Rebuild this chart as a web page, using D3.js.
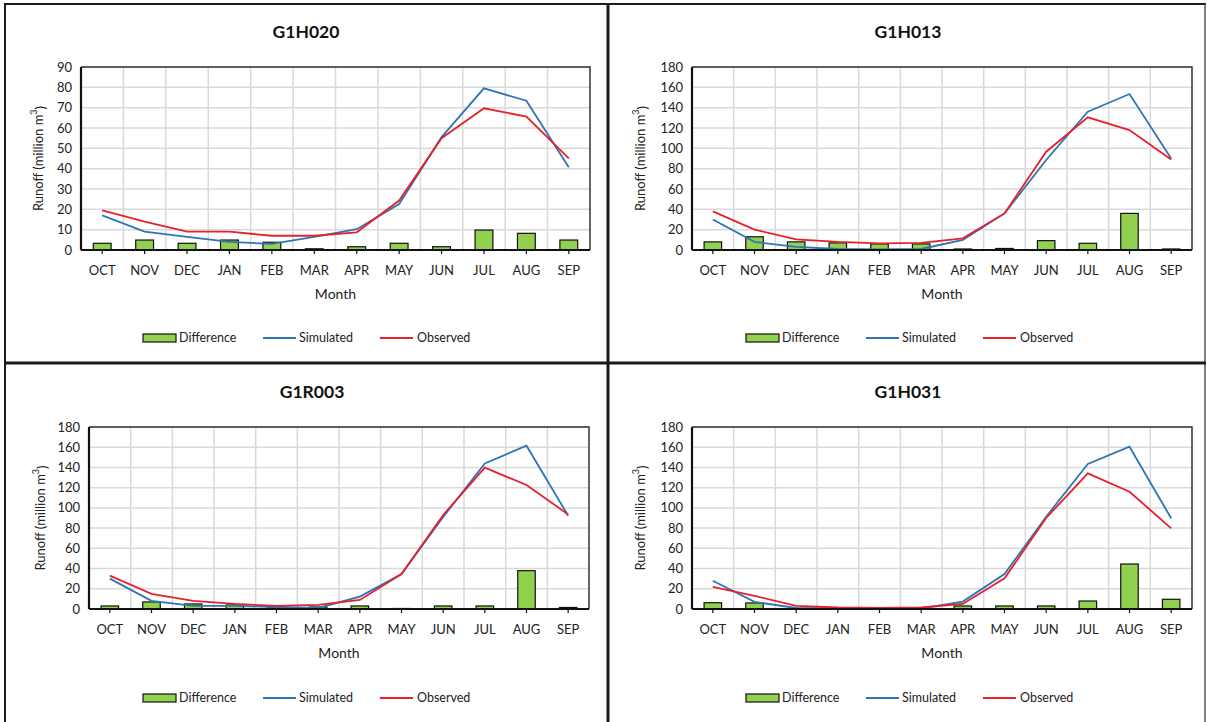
<!DOCTYPE html>
<html><head><meta charset="utf-8">
<script src="https://cdn.jsdelivr.net/npm/d3@7"></script>
<style>body{margin:0;background:#fff}svg{display:block}text{font-family:Lato,"Open Sans",sans-serif}</style>
</head><body><svg id="c" width="1208" height="722"></svg>
<script>
const months = ["OCT","NOV","DEC","JAN","FEB","MAR","APR","MAY","JUN","JUL","AUG","SEP"];
const titles = ["G1H020","G1H013","G1R003","G1H031"];
const yMax = [90,180,180,180];
const yStep = [10,20,20,20];
const simulated_G1H020 = [17,9,6.5,4,3,6.5,10.2,22.6,55.5,79.5,73.4,40.7];
const observed_G1H020  = [19.5,14,9,9,7,7,8.7,24.3,55,69.7,65.6,45.1];
const difference_G1H020 = [3.3,4.9,3.3,4.9,3.8,0.6,1.6,3.3,1.6,9.8,8.2,4.9];
const simulated_G1H013 = [30,8,3,1,0.5,1,10,36,88.5,136,153.4,90];
const observed_G1H013  = [38,20,10.5,8,6.5,7,11.5,36,96.7,130.5,118,89];
const difference_G1H013 = [8,13,8,7,6,6,1,1.5,9.2,6.6,36,1];
const simulated_G1R003 = [30,8,3,3,2,1,12.2,34.6,91,144,161.5,92.3];
const observed_G1R003  = [33,15,8,5,3,4,8.9,34.6,93,139.8,122.6,93.5];
const difference_G1R003 = [3,7,5,4,2,2,3,0.5,3,3,37.9,1.5];
const simulated_G1H031 = [28,7,1,0.5,0.3,0.5,7.3,34.6,91.3,143.4,160.5,89.7];
const observed_G1H031  = [22,13,3,1.5,1,1.5,5,30.3,90,134.2,116,79.8];
const difference_G1H031 = [6.2,6,0.5,0.5,0.5,0.5,3,3,3,7.9,44.5,9.6];
const sims = [simulated_G1H020,simulated_G1H013,simulated_G1R003,simulated_G1H031];
const obss = [observed_G1H020,observed_G1H013,observed_G1R003,observed_G1H031];
const diffs = [difference_G1H020,difference_G1H013,difference_G1R003,difference_G1H031];
const legendLabels = ["Difference","Simulated","Observed"];

const svg = d3.select("#c");
const BLUE = "#2e75b6", RED = "#e8202a", GREEN = "#92d050";

// panel frames
const frame = svg.append("g").attr("fill","none").attr("stroke","#1a1a1a");
frame.append("line").attr("x1",4).attr("x2",1206).attr("y1",4).attr("y2",4).attr("stroke-width",2);
frame.append("line").attr("x1",5).attr("x2",5).attr("y1",4).attr("y2",722).attr("stroke-width",2);
frame.append("line").attr("x1",1205).attr("x2",1205).attr("y1",4).attr("y2",722).attr("stroke-width",1.5).attr("stroke","#555");
frame.append("line").attr("x1",608).attr("x2",608).attr("y1",4).attr("y2",722).attr("stroke-width",3);
frame.append("line").attr("x1",4).attr("x2",1206).attr("y1",363).attr("y2",363).attr("stroke-width",3);

const panels = [
  {l:81,t:67,r:590,b:250,cx:306,ty:32,yl:38,py:0,lx:143},
  {l:692,t:67,r:1192,b:250,cx:908,ty:32,yl:640,py:0,lx:746},
  {l:89,t:427,r:589,b:609,cx:312,ty:392,yl:40,py:360,lx:143},
  {l:692,t:427,r:1192,b:609,cx:908,ty:392,yl:640,py:360,lx:746}
];

panels.forEach((p,i)=>{
  const g = svg.append("g");
  const x = d3.scaleBand().domain(months).range([p.l,p.r]);
  const y = d3.scaleLinear().domain([0,yMax[i]]).range([p.b,p.t]);
  const ticks = d3.range(0,yMax[i]+0.001,yStep[i]);
  // gridlines
  g.append("g").selectAll("line").data(ticks.slice(1)).join("line")
    .attr("x1",p.l).attr("x2",p.r).attr("y1",d=>y(d)).attr("y2",d=>y(d))
    .attr("stroke","#d9d9d9").attr("stroke-width",1.5);
  g.append("g").selectAll("line").data(months.slice(1)).join("line")
    .attr("x1",d=>x(d)).attr("x2",d=>x(d)).attr("y1",p.t).attr("y2",p.b)
    .attr("stroke","#d9d9d9").attr("stroke-width",1.5);
  // plot frame top/right
  g.append("path").attr("d",`M${p.l},${p.t}H${p.r}V${p.b}`).attr("fill","none").attr("stroke","#333").attr("stroke-width",1.5);
  // bars
  const bw = x.bandwidth()*0.42;
  g.append("g").selectAll("rect").data(diffs[i]).join("rect")
    .attr("x",(d,j)=>x(months[j])+x.bandwidth()/2-bw/2).attr("width",bw)
    .attr("y",d=>y(d)).attr("height",d=>y(0)-y(d))
    .attr("fill",GREEN).attr("stroke","#111").attr("stroke-width",1.2);
  // lines
  const line = d3.line().x((d,j)=>x(months[j])+x.bandwidth()/2).y(d=>y(d));
  g.append("path").datum(sims[i]).attr("d",line).attr("fill","none").attr("stroke",BLUE).attr("stroke-width",1.8);
  g.append("path").datum(obss[i]).attr("d",line).attr("fill","none").attr("stroke",RED).attr("stroke-width",1.8);
  // axes
  g.append("line").attr("x1",p.l).attr("x2",p.r).attr("y1",p.b).attr("y2",p.b).attr("stroke","#111").attr("stroke-width",2);
  g.append("line").attr("x1",p.l).attr("x2",p.l).attr("y1",p.t).attr("y2",p.b).attr("stroke","#111").attr("stroke-width",2.2);
  g.append("g").selectAll("line").data(months).join("line")
    .attr("x1",d=>x(d)+x.bandwidth()/2).attr("x2",d=>x(d)+x.bandwidth()/2)
    .attr("y1",p.b).attr("y2",p.b+4).attr("stroke","#111").attr("stroke-width",1.2);
  // tick labels
  g.append("g").selectAll("text").data(ticks).join("text")
    .attr("x",p.l-9).attr("y",d=>y(d)).attr("dy","0.35em").attr("text-anchor","end")
    .attr("font-size",13).attr("fill","#222").text(d=>d);
  g.append("g").selectAll("text").data(months).join("text")
    .attr("x",d=>x(d)+x.bandwidth()/2).attr("y",p.b+20).attr("dy","0.35em").attr("text-anchor","middle")
    .attr("font-size",13).attr("fill","#222").text(d=>d);
  // title
  g.append("text").attr("x",p.cx).attr("y",p.ty).attr("dy","0.35em").attr("text-anchor","middle")
    .attr("font-size",17.5).attr("font-weight","bold").attr("fill","#111").text(titles[i]);
  // axis titles
  g.append("text").attr("x",(p.l+p.r)/2).attr("y",p.b+44).attr("dy","0.35em").attr("text-anchor","middle")
    .attr("font-size",14).attr("fill","#222").text("Month");
  const yt = g.append("text").attr("transform",`translate(${p.yl},${(p.t+p.b)/2}) rotate(-90)`)
    .attr("text-anchor","middle").attr("dy","0.35em").attr("font-size",13).attr("fill","#222");
  yt.append("tspan").text("Runoff (million m");
  yt.append("tspan").attr("font-size",9).attr("dy","-0.6em").text("3");
  yt.append("tspan").attr("dy","0.6em").text(")");
  // legend
  const lx = p.lx, ly = p.py + 338;
  const lg = g.append("g");
  lg.append("rect").attr("x",lx).attr("y",ly-4).attr("width",33).attr("height",8).attr("fill",GREEN).attr("stroke","#111").attr("stroke-width",1.2);
  lg.append("text").attr("x",lx+36).attr("y",ly).attr("dy","0.35em").attr("font-size",12.5).attr("fill","#222").text(legendLabels[0]);
  lg.append("line").attr("x1",lx+120).attr("x2",lx+153).attr("y1",ly).attr("y2",ly).attr("stroke",BLUE).attr("stroke-width",1.8);
  lg.append("text").attr("x",lx+156).attr("y",ly).attr("dy","0.35em").attr("font-size",12.5).attr("fill","#222").text(legendLabels[1]);
  lg.append("line").attr("x1",lx+237).attr("x2",lx+270).attr("y1",ly).attr("y2",ly).attr("stroke",RED).attr("stroke-width",1.8);
  lg.append("text").attr("x",lx+274).attr("y",ly).attr("dy","0.35em").attr("font-size",12.5).attr("fill","#222").text(legendLabels[2]);
});
</script></body></html>
